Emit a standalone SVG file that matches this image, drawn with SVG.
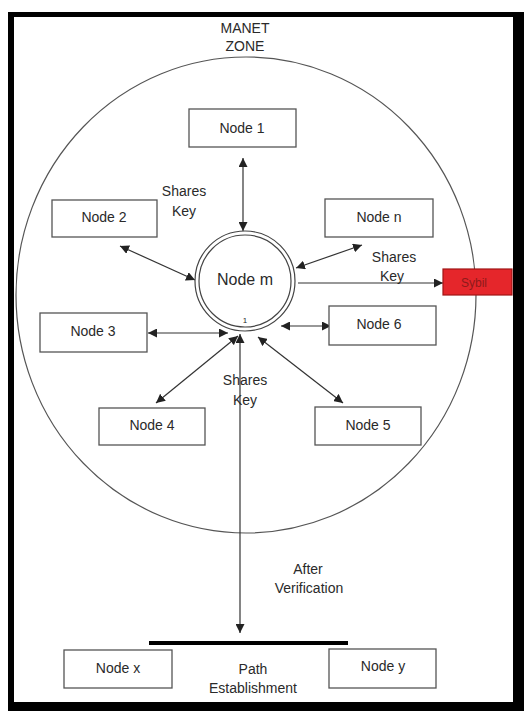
<svg xmlns="http://www.w3.org/2000/svg" width="528" height="711" viewBox="0 0 528 711">
<style>
text{font-family:"Liberation Sans",Arial,sans-serif;font-size:14px;fill:#2a2a2a;text-anchor:middle}
.box{fill:#fff;stroke:#555;stroke-width:1.3}
.c{stroke:#333;stroke-width:1.2;fill:none}
</style>
<defs>
<marker id="ah" viewBox="0 0 10 10" refX="10" refY="5" markerWidth="9" markerHeight="9" markerUnits="userSpaceOnUse" orient="auto-start-reverse">
<path d="M0,0 L10,5 L0,10 Z" fill="#222"/>
</marker>
</defs>
<rect x="0" y="0" width="528" height="711" fill="#fff"/>
<rect x="8" y="12" width="516" height="699" fill="#000"/>
<rect x="14" y="17" width="499" height="685" fill="#fff"/>
<g id="zone">
<ellipse cx="246" cy="295" rx="230" ry="238" fill="none" stroke="#555" stroke-width="1.2"/>
<text x="245" y="33">MANET</text>
<text x="245" y="51">ZONE</text>
</g>
<g id="connectors">
<line class="c" x1="243" y1="158" x2="243" y2="231" marker-start="url(#ah)" marker-end="url(#ah)"/>
<line class="c" x1="120" y1="246" x2="195" y2="280" marker-start="url(#ah)" marker-end="url(#ah)"/>
<line class="c" x1="362" y1="245" x2="296" y2="268" marker-start="url(#ah)" marker-end="url(#ah)"/>
<line class="c" x1="298" y1="283" x2="443" y2="283" marker-end="url(#ah)"/>
<line class="c" x1="148" y1="333" x2="228" y2="333" marker-start="url(#ah)" marker-end="url(#ah)"/>
<line class="c" x1="281" y1="326" x2="331" y2="326" marker-start="url(#ah)" marker-end="url(#ah)"/>
<line class="c" x1="240" y1="334" x2="240" y2="633" marker-start="url(#ah)" marker-end="url(#ah)"/>
<line class="c" x1="156" y1="403" x2="238" y2="336" marker-start="url(#ah)" marker-end="url(#ah)"/>
<line class="c" x1="343" y1="403" x2="258" y2="337" marker-start="url(#ah)" marker-end="url(#ah)"/>
<line x1="149" y1="643" x2="348" y2="643" stroke="#000" stroke-width="4"/>
<text x="184" y="196">Shares</text>
<text x="184" y="216">Key</text>
<text x="394" y="262">Shares</text>
<text x="392" y="281">Key</text>
<text x="245" y="385">Shares</text>
<text x="245" y="405">Key</text>
<text x="308" y="574">After</text>
<text x="309" y="593">Verification</text>
<text x="253" y="674">Path</text>
<text x="253" y="693">Establishment</text>
</g>
<g id="node-m">
<circle cx="245" cy="281" r="50" fill="#fff" stroke="#444" stroke-width="1.2"/>
<circle cx="245" cy="281" r="46" fill="none" stroke="#444" stroke-width="1.2"/>
<text x="245" y="285" style="font-size:16px">Node m</text>
<text x="245" y="323" style="font-size:8px">1</text>
</g>
<g id="node-1"><rect class="box" x="189" y="109" width="107" height="38"/><text x="242" y="133">Node 1</text></g>
<g id="node-2"><rect class="box" x="52" y="200" width="105" height="37"/><text x="104" y="222">Node 2</text></g>
<g id="node-n"><rect class="box" x="325" y="199" width="108" height="38"/><text x="379" y="222">Node n</text></g>
<g id="node-3"><rect class="box" x="40" y="313" width="107" height="39"/><text x="93" y="336">Node 3</text></g>
<g id="node-6"><rect class="box" x="329" y="306" width="107" height="39"/><text x="379" y="329">Node 6</text></g>
<g id="node-4"><rect class="box" x="99" y="408" width="106" height="37"/><text x="152" y="430">Node 4</text></g>
<g id="node-5"><rect class="box" x="315" y="407" width="106" height="38"/><text x="368" y="430">Node 5</text></g>
<g id="sybil"><rect x="443" y="269" width="69" height="26" fill="#e5262b" stroke="#a01515" stroke-width="1.2"/><text x="474" y="287" style="font-size:12px;fill:#8e1a1a">Sybil</text></g>
<g id="node-x"><rect class="box" x="64" y="650" width="108" height="38"/><text x="118" y="673">Node x</text></g>
<g id="node-y"><rect class="box" x="329" y="649" width="107" height="39"/><text x="383" y="671">Node y</text></g>
</svg>
